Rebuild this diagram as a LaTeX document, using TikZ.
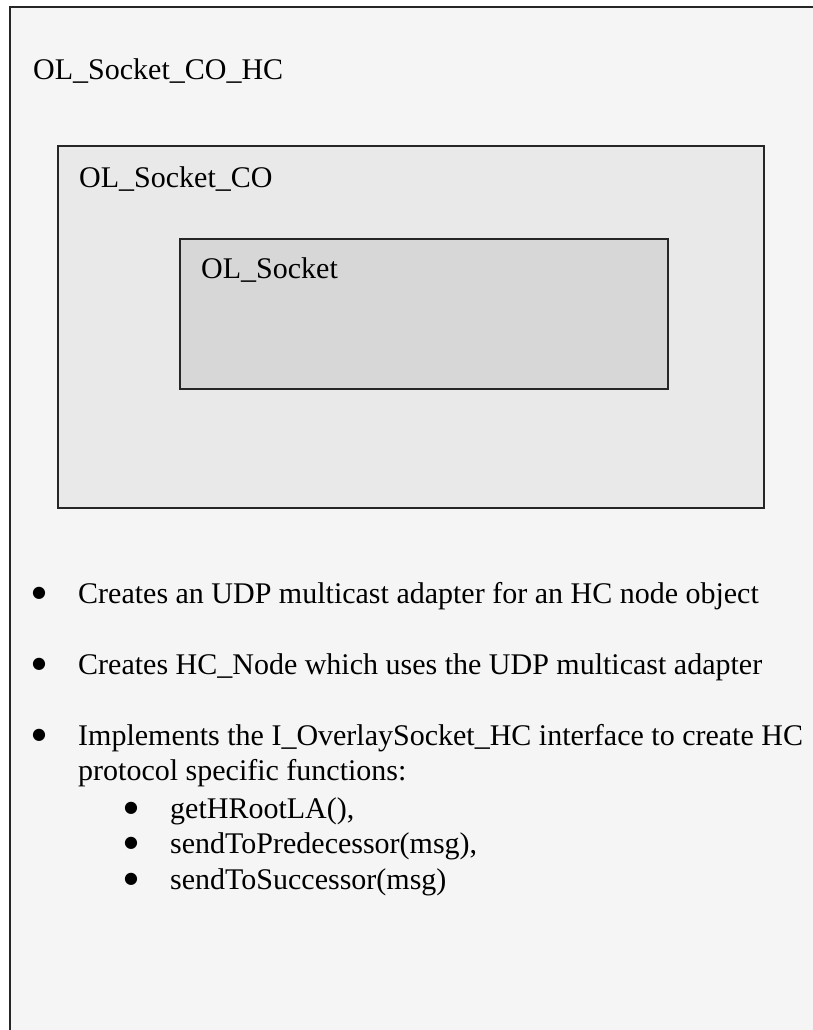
\documentclass[tikz,border=0pt]{standalone}
\usepackage{fontspec}
\setmainfont{Liberation Serif}
\newfontfamily\dotfont{DejaVu Sans}
\begin{document}
\begin{tikzpicture}[x=1pt,y=-1pt,
  box/.style={draw=black!85, line width=1.3pt, anchor=north west, inner sep=0pt, outer sep=0pt},
  txt/.style={anchor=base west, inner sep=0pt, font=\fontsize{30}{36}\selectfont},
  bul/.style={anchor=base, inner sep=0pt, font=\dotfont\fontsize{16}{18}\selectfont}]
\useasboundingbox (0,0) rectangle (812,1030);
\fill[white] (-20,-20) rectangle (840,1060);

% nested component boxes (the outer one runs past the page on the right and bottom)
\node[anchor=north west, inner sep=0pt, outer sep=0pt, fill=black!4,
      minimum width=840pt, minimum height=1060pt] (hc) at (10,7) {};
\draw[black!85, line width=1.6pt] (hc.south west) -- (hc.north west) -- (hc.north east);
\node[box, fill=black!8.5, minimum width=706pt, minimum height=362pt] (co) at (58,146) {};
\node[box, fill=black!15.5, minimum width=488pt, minimum height=150pt] (sock) at (180,239) {};

% box titles
\node[txt] (thc) at (33,80) {OL\_Socket\_CO\_HC};
\node[txt] (tco) at (79,187) {OL\_Socket\_CO};
\node[txt] (tsock) at (201,278) {OL\_Socket};

% description list
\node[bul] (b1) at (39,597) {●};
\node[txt] (l1) at (78,603) {Creates an UDP multicast adapter for an HC node object};
\node[bul] (b2) at (39,668) {●};
\node[txt] (l2) at (78,674) {Creates HC\_Node which uses the UDP multicast adapter};
\node[bul] (b3) at (39,739) {●};
\node[txt] (l3) at (78,745) {Implements the I\_OverlaySocket\_HC interface to create HC};
\node[txt] (l4) at (78,780) {protocol specific functions:};

\node[bul] (s1) at (131,812) {●};
\node[txt] (m1) at (170,818) {getHRootLA(),};
\node[bul] (s2) at (131,847) {●};
\node[txt] (m2) at (170,853) {sendToPredecessor(msg),};
\node[bul] (s3) at (131,883) {●};
\node[txt] (m3) at (170,889) {sendToSuccessor(msg)};
\end{tikzpicture}
\end{document}
